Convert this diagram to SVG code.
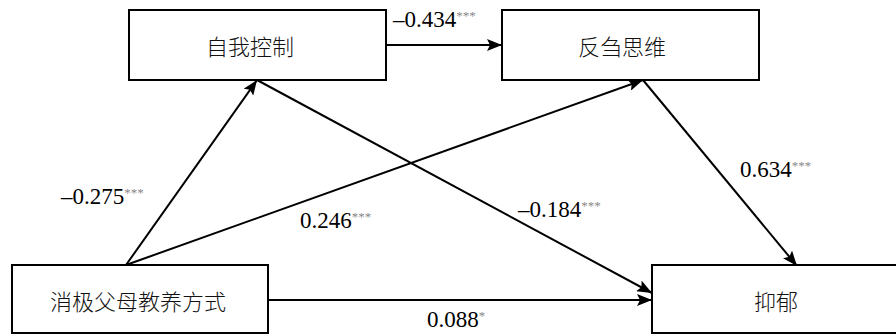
<svg xmlns="http://www.w3.org/2000/svg" width="896" height="335" viewBox="0 0 896 335">
<style>
.box{fill:#fff;stroke:#000;stroke-width:2}
.cn{font-family:"Noto Sans CJK SC","Noto Sans CJK JP",sans-serif;font-size:22px;font-weight:300;fill:#111;text-anchor:middle;dominant-baseline:central}
.num{font-family:"Liberation Serif","Times New Roman",serif;font-size:23px;fill:#000}
.sup{font-size:13px;fill:#888}
.edge{stroke:#000;stroke-width:2;fill:none;marker-end:url(#arr)}
</style>
<defs>
<marker id="arr" markerUnits="userSpaceOnUse" markerWidth="16" markerHeight="12" refX="15" refY="6" orient="auto">
<path d="M0,0 L15,6 L0,12 L3,6 z" fill="#000"/>
</marker>
</defs>
<rect width="896" height="335" fill="#fff"/>
<g id="connectors">
<line class="edge" x1="126" y1="265" x2="257" y2="80"/>
<line class="edge" x1="126" y1="265" x2="643" y2="80"/>
<line class="edge" x1="257" y1="80" x2="652" y2="293"/>
<line class="edge" x1="643" y1="80" x2="797" y2="266"/>
<line class="edge" x1="386" y1="45" x2="502" y2="45"/>
<line class="edge" x1="268" y1="300" x2="652" y2="300"/>
</g>
<g id="node-selfcontrol">
<rect class="box" x="129" y="10" width="257" height="70"/>
<text class="cn" x="250" y="45">自我控制</text>
</g>
<g id="node-rumination">
<rect class="box" x="502" y="10" width="257" height="70"/>
<text class="cn" x="622" y="45">反刍思维</text>
</g>
<g id="node-parenting">
<rect class="box" x="12" y="265" width="256" height="68"/>
<text class="cn" x="138" y="300">消极父母教养方式</text>
</g>
<g id="node-depression">
<rect class="box" x="652" y="265" width="250" height="68"/>
<text class="cn" x="776" y="300">抑郁</text>
</g>
<g id="labels">
<text class="num" x="393" y="27">–0.434<tspan class="sup" dy="-7">***</tspan></text>
<text class="num" x="740" y="177">0.634<tspan class="sup" dy="-7">***</tspan></text>
<text class="num" x="61" y="204">–0.275<tspan class="sup" dy="-7">***</tspan></text>
<text class="num" x="300" y="228">0.246<tspan class="sup" dy="-7">***</tspan></text>
<text class="num" x="518" y="217">–0.184<tspan class="sup" dy="-7">***</tspan></text>
<text class="num" x="427" y="327">0.088<tspan class="sup" dy="-7">*</tspan></text>
</g>
</svg>
